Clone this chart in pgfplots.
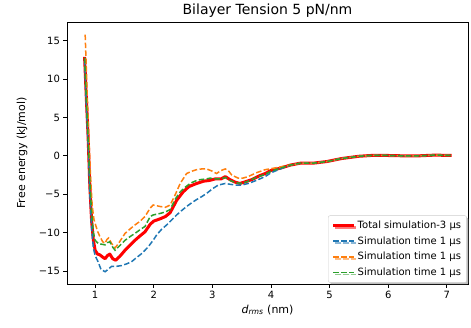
\documentclass[border=0pt]{standalone}
\usepackage{fontspec}
\setmainfont{DejaVu Sans}
\usepackage{pgfplots}
\pgfplotsset{compat=1.18}
\usetikzlibrary{shadows}
\definecolor{mplblue}{HTML}{1F77B4}
\definecolor{mplorange}{HTML}{FF7F0E}
\definecolor{mplgreen}{HTML}{2CA02C}
\begin{document}
\begin{tikzpicture}
\begin{axis}[
  scale only axis,
  width=401pt, height=262pt,
  xmin=0.52, xmax=7.36,
  ymin=-16.7, ymax=17.45,
  axis line style={black, line width=0.8pt},
  tick style={black, line width=0.8pt},
  tick align=outside,
  major tick length=3.5pt,
  xtick={1,2,3,4,5,6,7},
  xticklabels={1,2,3,4,5,6,7},
  ytick={-15,-10,-5,0,5,10,15},
  yticklabels={−15,−10,−5,0,5,10,15},
  xtick pos=bottom, ytick pos=left,
  ticklabel style={font=\fontsize{10}{12}\selectfont},
  xticklabel style={yshift=-0.5pt},
  every axis title shift=0pt,
  title={Bilayer Tension 5 pN/nm},
  title style={font=\fontsize{14}{16}\selectfont, at={(axis description cs:0.5,1.042)}, anchor=center},
  xlabel={\textit{d}\textsubscript{\textit{rms}} (nm)},
  xlabel style={font=\fontsize{11}{13}\selectfont, at={(axis description cs:0.5,-0.099)}, anchor=center},
  ylabel={Free energy (kJ/mol)},
  ylabel style={font=\fontsize{11}{13}\selectfont, at={(axis description cs:-0.112,0.5)}, anchor=center},
  legend cell align=left,
  legend image code/.code={\draw[#1] (0pt,0pt) -- (21pt,0pt);},
  legend style={at={(0.997,0.005)}, anchor=south east,
    draw=black!20, fill=white, rounded corners=2pt,
    drop shadow={shadow xshift=2pt, shadow yshift=-2pt, fill=black!50, opacity=0.5},
    font=\fontsize{10}{12}\selectfont, inner xsep=3.5pt, inner ysep=3.5pt, row sep=2.5pt},
]
% Total simulation
\addplot[red, line width=3pt, line join=round] coordinates {
(0.82,12.9) (0.85,7.5) (0.88,2.5) (0.91,-4.0) (0.94,-8.5) (0.97,-11.0) (1.00,-12.3)
(1.04,-12.8) (1.08,-12.9) (1.13,-13.2) (1.17,-13.4) (1.21,-13.0) (1.25,-12.8)
(1.30,-13.4) (1.35,-13.6) (1.42,-13.1) (1.51,-12.3) (1.60,-11.6) (1.68,-11.0)
(1.77,-10.4) (1.85,-9.9) (1.94,-8.9) (2.00,-8.5) (2.11,-8.2) (2.20,-7.9) (2.28,-7.4)
(2.39,-5.8) (2.50,-4.7) (2.60,-4.0) (2.73,-3.6) (2.85,-3.3) (2.95,-3.2) (3.05,-3.0)
(3.15,-3.0) (3.22,-2.7) (3.30,-3.1) (3.38,-3.4) (3.47,-3.6) (3.55,-3.4) (3.67,-3.1)
(3.80,-2.6) (3.90,-2.3) (4.00,-1.9) (4.16,-1.6) (4.33,-1.2) (4.50,-0.95) (4.72,-0.95)
(4.95,-0.74) (5.20,-0.35) (5.50,-0.05) (5.70,0.05) (6.00,0.05) (6.30,0.0) (6.50,0.0)
(6.80,0.1) (7.08,0.05)
};
\addlegendentry{Total simulation-3 μs}
% Blue
\addplot[mplblue, line width=1.5pt, dash pattern=on 5.5pt off 2.4pt] coordinates {
(0.82,12.5) (0.85,6.5) (0.88,1.5) (0.91,-5.0) (0.94,-9.5) (0.97,-12.0) (1.00,-13.0)
(1.05,-13.8) (1.10,-14.8) (1.17,-15.1) (1.22,-14.8) (1.28,-14.4) (1.36,-14.4)
(1.45,-14.3) (1.53,-14.1) (1.62,-13.8) (1.70,-13.3) (1.80,-12.7) (1.90,-11.9)
(1.99,-11.0) (2.05,-10.3) (2.13,-9.6) (2.22,-9.0) (2.30,-8.4) (2.39,-7.7) (2.48,-7.1)
(2.56,-6.6) (2.65,-6.1) (2.73,-5.7) (2.82,-5.3) (2.90,-4.9) (3.00,-4.3) (3.10,-3.8)
(3.22,-3.6) (3.30,-3.7) (3.39,-3.8) (3.50,-3.8) (3.61,-3.6) (3.75,-3.2) (3.90,-2.7)
(4.00,-2.2) (4.16,-1.7) (4.33,-1.2) (4.50,-0.95) (4.72,-0.95) (4.95,-0.74) (5.20,-0.35)
(5.50,-0.05) (5.70,0.05) (6.00,0.05) (6.30,0.0) (6.50,0.0) (6.80,0.1) (7.08,0.05)
};
\addlegendentry{Simulation time 1 μs}
% Orange
\addplot[mplorange, line width=1.5pt, dash pattern=on 5.5pt off 2.4pt] coordinates {
(0.83,15.8) (0.86,9.0) (0.89,3.0) (0.92,-2.5) (0.95,-6.5) (0.98,-8.3) (1.00,-8.8)
(1.04,-9.8) (1.08,-10.5) (1.13,-11.2) (1.17,-11.4) (1.20,-10.9) (1.23,-10.7)
(1.28,-11.4) (1.34,-12.0) (1.40,-11.4) (1.51,-10.1) (1.60,-9.5) (1.68,-9.0)
(1.77,-8.5) (1.85,-7.9) (1.94,-6.8) (1.99,-6.4) (2.05,-6.5) (2.11,-6.6) (2.20,-6.7)
(2.28,-6.4) (2.37,-5.0) (2.45,-3.6) (2.56,-2.3) (2.65,-2.0) (2.73,-1.8) (2.82,-1.7)
(2.90,-1.7) (3.00,-2.0) (3.07,-2.3) (3.15,-1.9) (3.22,-1.7) (3.28,-2.0) (3.33,-2.5)
(3.44,-2.9) (3.52,-2.9) (3.61,-2.7) (3.75,-2.2) (3.90,-1.8) (4.05,-1.6) (4.18,-1.4)
(4.33,-1.2) (4.50,-0.95) (4.72,-0.95) (4.95,-0.74) (5.20,-0.35) (5.50,-0.05)
(5.70,0.05) (6.00,0.05) (6.30,0.0) (6.50,0.0) (6.80,0.1) (7.08,0.05)
};
\addlegendentry{Simulation time 1 μs}
% Green
\addplot[mplgreen, line width=1.5pt, dash pattern=on 5.5pt off 2.4pt] coordinates {
(0.82,12.8) (0.85,7.3) (0.88,2.3) (0.91,-3.5) (0.94,-7.5) (0.97,-10.0) (1.00,-11.0)
(1.05,-11.4) (1.10,-11.5) (1.17,-11.6) (1.21,-11.3) (1.25,-11.2) (1.30,-11.9)
(1.34,-12.3) (1.42,-11.7) (1.51,-11.0) (1.60,-10.5) (1.68,-10.1) (1.77,-9.6)
(1.85,-9.2) (1.94,-7.9) (1.99,-7.7) (2.11,-7.5) (2.20,-7.3) (2.28,-7.0) (2.37,-5.6)
(2.45,-4.7) (2.55,-4.0) (2.62,-3.6) (2.70,-3.3) (2.79,-3.1) (2.90,-3.0) (2.96,-2.9)
(3.05,-3.0) (3.15,-3.0) (3.22,-2.8) (3.30,-3.2) (3.40,-3.5) (3.50,-3.6) (3.61,-3.3)
(3.75,-2.8) (3.90,-2.4) (4.00,-2.0) (4.16,-1.6) (4.33,-1.2) (4.50,-0.95) (4.72,-0.95)
(4.95,-0.74) (5.20,-0.35) (5.50,-0.05) (5.70,0.05) (6.00,0.05) (6.30,0.0) (6.50,0.0)
(6.80,0.1) (7.08,0.05)
};
\addlegendentry{Simulation time 1 μs}
\end{axis}
\pgfresetboundingbox
\path[use as bounding box] ([xshift=-67pt,yshift=-43pt]current axis.south west) rectangle ([xshift=3pt,yshift=22pt]current axis.north east);
\end{tikzpicture}
\end{document}
